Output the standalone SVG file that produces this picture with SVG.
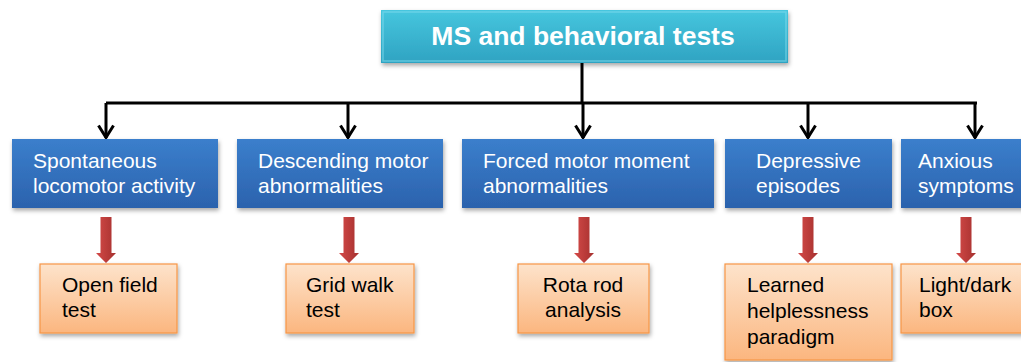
<svg xmlns="http://www.w3.org/2000/svg" width="1021" height="362" viewBox="0 0 1021 362">
<defs>
<linearGradient id="gBlue" x1="0" y1="0" x2="0" y2="1"><stop offset="0" stop-color="#3b7fcc"/><stop offset="1" stop-color="#2b62ad"/></linearGradient>
<linearGradient id="gTitle" x1="0" y1="0" x2="0" y2="1"><stop offset="0" stop-color="#46c6de"/><stop offset="1" stop-color="#2fa3c2"/></linearGradient>
<linearGradient id="gOrange" x1="0" y1="0" x2="0" y2="1"><stop offset="0" stop-color="#fde3cb"/><stop offset="1" stop-color="#fbb67f"/></linearGradient>
<linearGradient id="gRed" x1="0" y1="0" x2="1" y2="0"><stop offset="0" stop-color="#d44a48"/><stop offset="1" stop-color="#a5302e"/></linearGradient>
<filter id="sh" x="-10%" y="-20%" width="120%" height="150%"><feDropShadow dx="1" dy="2.5" stdDeviation="2" flood-color="#000" flood-opacity="0.35"/></filter>
<marker id="ah" markerWidth="16" markerHeight="18" refX="14" refY="9" orient="auto" markerUnits="userSpaceOnUse" viewBox="0 0 16 18">
<path d="M1.5,1.5 L13.5,9 L1.5,16.5" fill="none" stroke="#000" stroke-width="3"/>
</marker>
<path id="redArrow" d="M-5.5,0 H5.5 V36 H10 L0,46 L-10,36 H-5.5 Z"/>
</defs>
<style>
.blue{fill:url(#gBlue);filter:url(#sh)}
.org{fill:url(#gOrange);stroke:#f79646;stroke-width:1.2;filter:url(#sh)}
.wt{font-family:"Liberation Sans",Arial,sans-serif;font-size:21px;fill:#fff}
.bt{font-family:"Liberation Sans",Arial,sans-serif;font-size:21px;fill:#000}
.conn{fill:none;stroke:#000;stroke-width:3}
.red{fill:url(#gRed)}
</style>
<g id="connectors">
<path class="conn" d="M582,63 V103"/>
<path class="conn" d="M106,103 H977"/>
<path class="conn" d="M106,103 V138" marker-end="url(#ah)"/>
<path class="conn" d="M348,103 V138" marker-end="url(#ah)"/>
<path class="conn" d="M583,103 V138" marker-end="url(#ah)"/>
<path class="conn" d="M808,103 V138" marker-end="url(#ah)"/>
<path class="conn" d="M975,103 V138" marker-end="url(#ah)"/>
<use href="#redArrow" class="red" x="106" y="217"/>
<use href="#redArrow" class="red" x="349" y="217"/>
<use href="#redArrow" class="red" x="584" y="217"/>
<use href="#redArrow" class="red" x="808" y="217"/>
<use href="#redArrow" class="red" x="966" y="217"/>
</g>
<g id="title">
<rect x="381" y="10" width="407" height="53" fill="url(#gTitle)" filter="url(#sh)"/>
<rect x="383" y="12" width="403" height="49" fill="none" stroke="#7fdcec" stroke-width="1.5" opacity="0.6"/>
<text x="583" y="45" text-anchor="middle" font-family="'Liberation Sans',Arial,sans-serif" font-size="26.5" font-weight="bold" fill="#fff">MS and behavioral tests</text>
</g>
<g id="spontaneous">
<rect class="blue" x="12" y="139" width="206" height="69"/>
<text class="wt" x="33" y="168">Spontaneous</text>
<text class="wt" x="33" y="193">locomotor activity</text>
</g>
<g id="descending">
<rect class="blue" x="237" y="139" width="206" height="69"/>
<text class="wt" x="258" y="168">Descending motor</text>
<text class="wt" x="258" y="193">abnormalities</text>
</g>
<g id="forced">
<rect class="blue" x="462" y="139" width="252" height="69"/>
<text class="wt" x="483" y="168">Forced motor moment</text>
<text class="wt" x="483" y="193">abnormalities</text>
</g>
<g id="depressive">
<rect class="blue" x="725" y="139" width="167" height="69"/>
<text class="wt" x="756" y="168">Depressive</text>
<text class="wt" x="756" y="193">episodes</text>
</g>
<g id="anxious">
<rect class="blue" x="901" y="139" width="125" height="69"/>
<text class="wt" x="918" y="168">Anxious</text>
<text class="wt" x="918" y="193">symptoms</text>
</g>
<g id="openfield">
<rect class="org" x="40" y="264" width="137" height="69"/>
<text class="bt" x="62" y="292">Open field</text>
<text class="bt" x="62" y="317">test</text>
</g>
<g id="gridwalk">
<rect class="org" x="286" y="264" width="128" height="69"/>
<text class="bt" x="306" y="292">Grid walk</text>
<text class="bt" x="306" y="317">test</text>
</g>
<g id="rotarod">
<rect class="org" x="518" y="264" width="131" height="69"/>
<text class="bt" x="583" y="292" text-anchor="middle">Rota rod</text>
<text class="bt" x="583" y="317" text-anchor="middle">analysis</text>
</g>
<g id="learned">
<rect class="org" x="725" y="264" width="167" height="96"/>
<text class="bt" x="747" y="292">Learned</text>
<text class="bt" x="747" y="318">helplessness</text>
<text class="bt" x="747" y="344">paradigm</text>
</g>
<g id="lightdark">
<rect class="org" x="901" y="264" width="125" height="69"/>
<text class="bt" x="919" y="292">Light/dark</text>
<text class="bt" x="919" y="317">box</text>
</g>
</svg>
